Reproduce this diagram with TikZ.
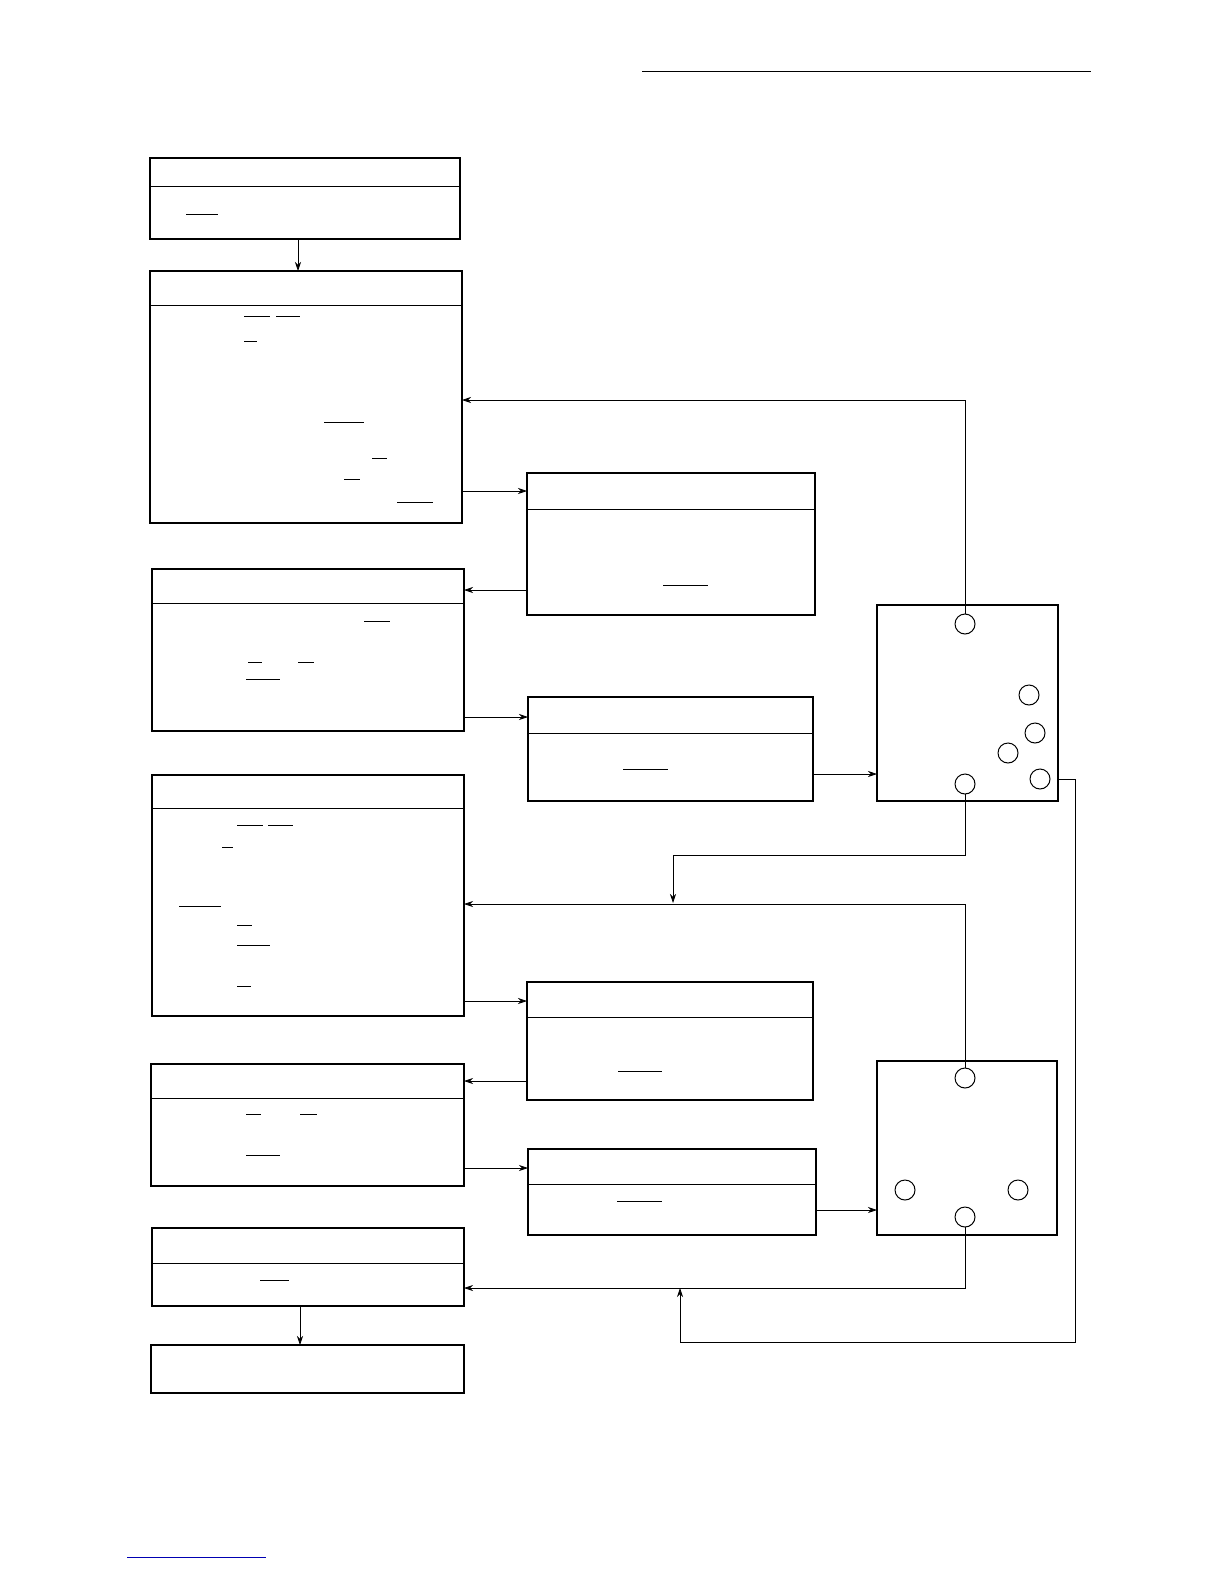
\documentclass[tikz,border=0pt]{standalone}
\usetikzlibrary{arrows.meta}
\begin{document}
\begin{tikzpicture}[x=1pt,y=-1pt,
 box/.style={line width=1.6pt},
 hdr/.style={line width=0.8pt},
 ul/.style={line width=0.8pt},
 con/.style={line width=0.7pt},
 arr/.style={con,-{Stealth[length=9pt,width=6pt]}},
 circ/.style={line width=1pt}]
\useasboundingbox[fill=white] (0,0) rectangle (1224,1584);
% boxes with headers
\foreach \a/\b/\c/\d/\h in {150/158/460/239/186,150/271/462/523/305,527/473/815/615/509,152/569/464/731/603,528/697/813/801/733,152/775/464/1016/808,527/982/813/1100/1017,151/1064/464/1186/1098,528/1149/816/1235/1184,152/1228/464/1306/1263}{
 \draw[box] (\a,\b) rectangle (\c,\d);
 \draw[hdr] (\a,\h) -- (\c,\h);}
\draw[box] (151,1345) rectangle (464,1393);
\draw[box] (877,605) rectangle (1058,801);
\draw[box] (877,1061) rectangle (1057,1235);
% circles
\foreach \x/\y in {965/624,1029/695,1035/733,1008/753,1040/779,965/784,965/1078,905/1190,1018/1190,965/1217}
 \draw[circ] (\x,\y) circle (10);
% underlines
\foreach \a/\b/\y in {186/218/214,244/270/316,276/300/316,244/257/341,324/364/422,372/387/458,344/360/479,397/433/502,663/708/585,364/390/621,248/262/662,298/314/662,246/280/679,623/668/769,237/263/825,268/293/825,222/233/847,179/221/906,237/252/925,237/270/945,237/251/986,618/662/1071,246/261/1114,300/317/1114,246/280/1155,617/662/1201,260/289/1280}
 \draw[ul] (\a,\y) -- (\b,\y);
% connectors
\draw[arr] (298,239) -- (298,271);
\draw[arr] (965,614) -- (965,400) -- (462,400);
\draw[arr] (462,491) -- (527,491);
\draw[arr] (527,590) -- (464,590);
\draw[arr] (464,717) -- (528,717);
\draw[arr] (813,774) -- (877,774);
\draw[arr] (965,794) -- (965,855) -- (673,855) -- (673,903);
\draw[arr] (965,1068) -- (965,904) -- (464,904);
\draw[arr] (464,1001) -- (527,1001);
\draw[arr] (527,1081) -- (464,1081);
\draw[arr] (464,1168) -- (528,1168);
\draw[arr] (816,1210) -- (877,1210);
\draw[arr] (965,1227) -- (965,1288) -- (464,1288);
\draw[arr] (1058,779) -- (1075,779) -- (1075,1342) -- (680,1342) -- (680,1288);
\draw[arr] (300,1306) -- (300,1345);
% page lines
\draw[line width=1pt] (642,72) -- (1091,72);
\draw[line width=1pt,blue!70!black] (127,1557) -- (266,1557);
\end{tikzpicture}
\end{document}
